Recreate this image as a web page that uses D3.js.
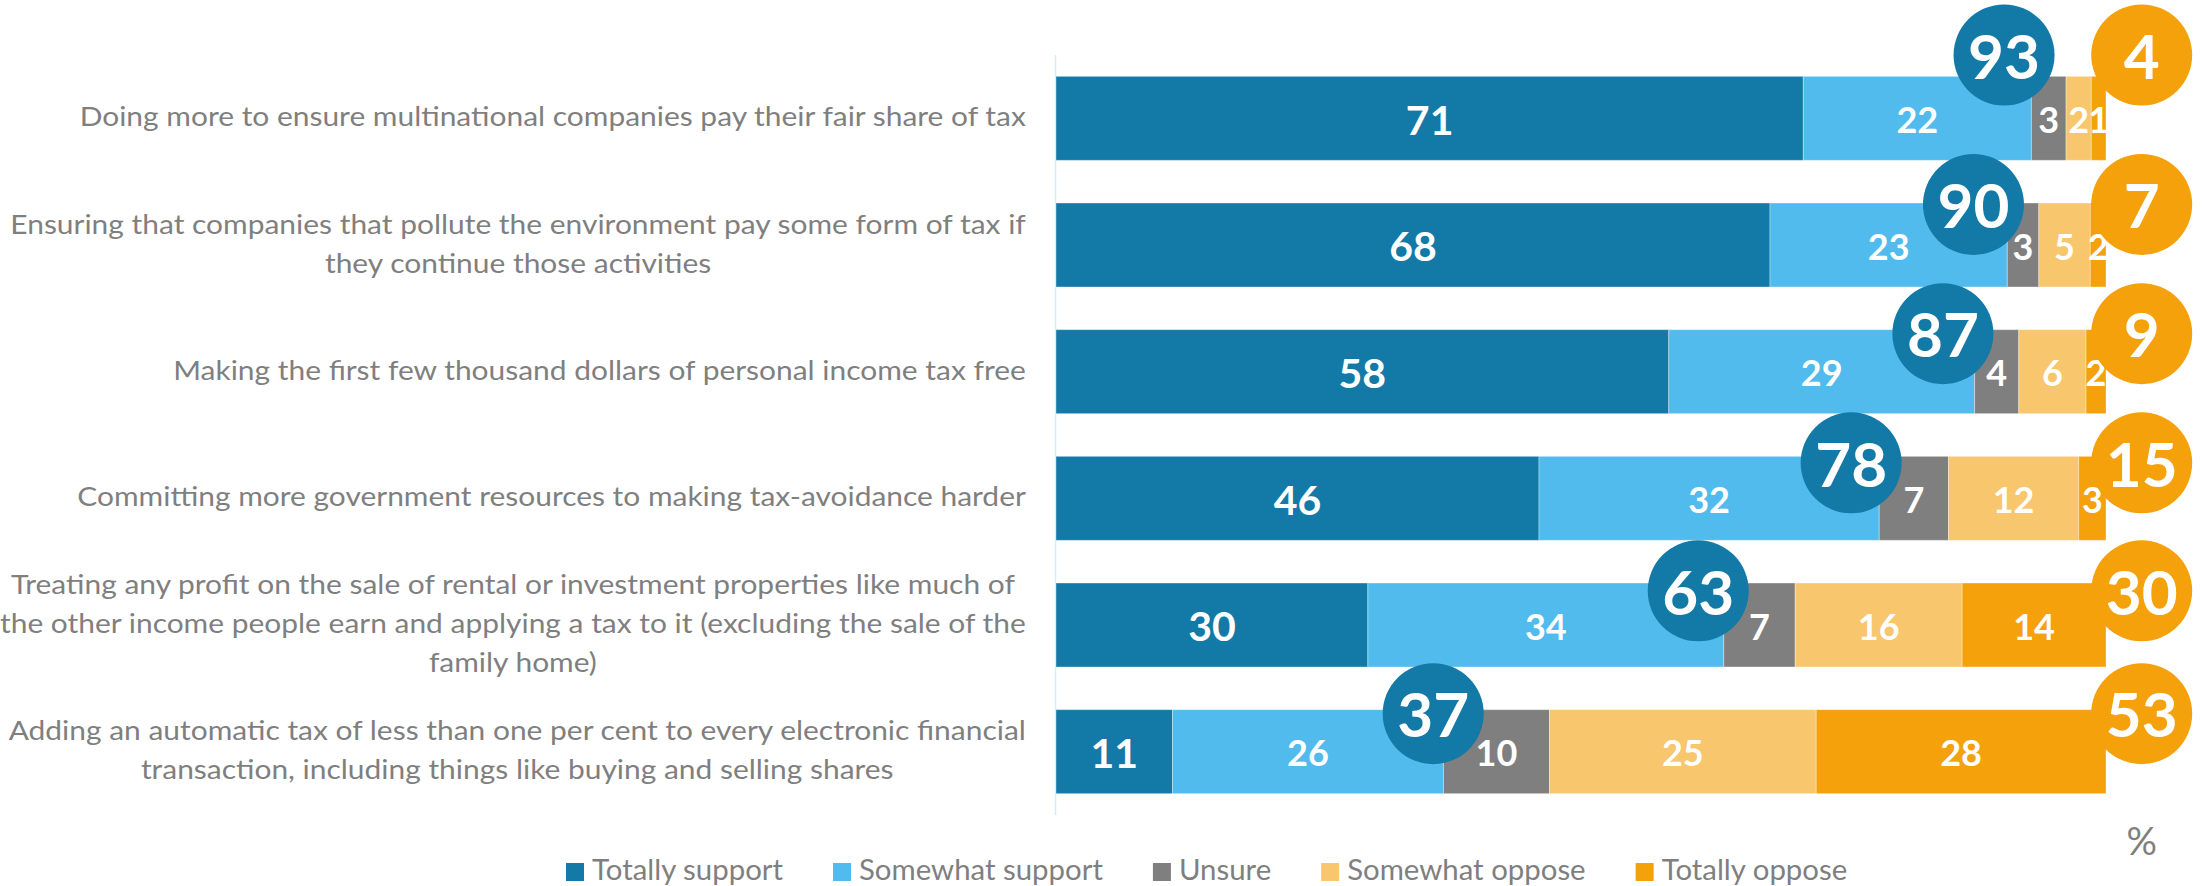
<!DOCTYPE html>
<html>
<head>
<meta charset="utf-8">
<script src="https://cdn.jsdelivr.net/npm/d3@7"></script>
<style>
  html, body { margin: 0; padding: 0; background: #ffffff; }
  svg { display: block; font-family: "Lato", "Open Sans", sans-serif; }
</style>
</head>
<body>
<svg id="chart" width="2203" height="886"></svg>
<script>
// ---------------- DATA ----------------
const categories = [
  ["Doing more to ensure multinational companies pay their fair share of tax"],
  ["Ensuring that companies that pollute the environment pay some form of tax if", "they continue those activities"],
  ["Making the first few thousand dollars of personal income tax free"],
  ["Committing more government resources to making tax-avoidance harder"],
  ["Treating any profit on the sale of rental or investment properties like much of", "the other income people earn and applying a tax to it (excluding the sale of the", "family home)"],
  ["Adding an automatic tax of less than one per cent to every electronic financial", "transaction, including things like buying and selling shares"]
];
const seriesNames = ["Totally support", "Somewhat support", "Unsure", "Somewhat oppose", "Totally oppose"];
const totallySupport  = [71.1, 68.0, 58.3, 46.0, 29.7, 11.1];
const somewhatSupport = [21.7, 22.6, 29.1, 32.4, 33.9, 25.8];
const unsure          = [3.3, 3.0, 4.2, 6.6, 6.8, 10.1];
const somewhatOppose  = [2.4, 4.9, 6.4, 12.4, 15.9, 25.4];
const totallyOppose   = [1.4, 1.5, 1.9, 2.6, 13.7, 27.6];
const totalSupport = [93, 90, 87, 78, 63, 37];
const totalOppose  = [4, 7, 9, 15, 30, 53];
// vertical position of the total bubbles (row units, 0 = bottom of plot, 6 = top)
const bubbleRowPos = [6.0, 4.82, 3.80, 2.78, 1.77, 0.80];
const unitLabel = "%";

// ---------------- STYLE / LAYOUT ----------------
const colors = ["#1379A7", "#50BBEC", "#7F7F7F", "#F8C66C", "#F4A10B"];
const W = 2203, H = 886;
const plot = { left: 1056, right: 2106, top: 55, bottom: 815 };
const labelRight = 1026;
const textGray = "#7F7F7F";
const catStretch = 1.13;
const legendStretch = 1.05;

const svg = d3.select("#chart");
svg.append("rect").attr("width", W).attr("height", H).attr("fill", "#fff");

const seriesArrays = [totallySupport, somewhatSupport, unsure, somewhatOppose, totallyOppose];
const rows = categories.map((c, i) => {
  const o = { idx: i };
  seriesNames.forEach((s, k) => o[s] = seriesArrays[k][i]);
  return o;
});

const stack = d3.stack().keys(seriesNames).offset(d3.stackOffsetExpand);
const stacked = stack(rows);

const x = d3.scaleLinear().domain([0, 1]).range([plot.left, plot.right]);
const y = d3.scaleBand().domain(d3.range(categories.length))
  .range([plot.top, plot.bottom]).paddingInner(0.337).paddingOuter(0.337 / 2);
const xBubble = d3.scaleLinear().domain([0, 103]).range([plot.left, plot.right]);
const yBubble = d3.scaleLinear().domain([0, 6]).range([plot.bottom, plot.top]);
const opposeColumn = 106.5; // bubble column position on xBubble scale
const bubbleR = 50.5;

// axis line
svg.append("line")
  .attr("x1", plot.left - 0.5).attr("x2", plot.left - 0.5)
  .attr("y1", plot.top).attr("y2", plot.bottom)
  .attr("stroke", "#D6ECFA").attr("stroke-width", 1.5);

// bars
const layers = svg.append("g").selectAll("g").data(stacked).join("g")
  .attr("fill", (d, k) => colors[k]);
layers.selectAll("rect").data(d => d).join("rect")
  .attr("x", d => x(d[0]))
  .attr("width", d => x(d[1]) - x(d[0]))
  .attr("y", (d, i) => y(i))
  .attr("height", y.bandwidth())
  .attr("stroke", "#ffffff").attr("stroke-opacity", 0.35).attr("stroke-width", 1);

// segment labels
const segLabels = svg.append("g");
stacked.forEach((layer, k) => {
  segLabels.selectAll(null).data(layer).join("text")
    .attr("x", d => (x(d[0]) + x(d[1])) / 2)
    .attr("y", (d, i) => y(i) + y.bandwidth() / 2 + 2)
    .attr("dy", "0.35em")
    .attr("text-anchor", "middle")
    .attr("fill", "#fff")
    .attr("font-weight", 700)
    .attr("font-size", k === 0 ? 41 : 36)
    .text((d, i) => Math.round(seriesArrays[k][i]));
});

// bubbles: total support
const bubbles = svg.append("g");
bubbles.selectAll("circle.sup").data(totalSupport).join("circle")
  .attr("class", "sup")
  .attr("cx", d => xBubble(d))
  .attr("cy", (d, i) => yBubble(bubbleRowPos[i]))
  .attr("r", bubbleR).attr("fill", colors[0]);
bubbles.selectAll("text.sup").data(totalSupport).join("text")
  .attr("class", "sup")
  .attr("x", d => xBubble(d))
  .attr("y", (d, i) => yBubble(bubbleRowPos[i]) + 2)
  .attr("dy", "0.35em").attr("text-anchor", "middle")
  .attr("fill", "#fff").attr("font-weight", 700).attr("font-size", 62)
  .text(d => d);
// bubbles: total oppose
bubbles.selectAll("circle.opp").data(totalOppose).join("circle")
  .attr("class", "opp")
  .attr("cx", xBubble(opposeColumn))
  .attr("cy", (d, i) => yBubble(bubbleRowPos[i]))
  .attr("r", bubbleR).attr("fill", colors[4]);
bubbles.selectAll("text.opp").data(totalOppose).join("text")
  .attr("class", "opp")
  .attr("x", xBubble(opposeColumn))
  .attr("y", (d, i) => yBubble(bubbleRowPos[i]) + 2)
  .attr("dy", "0.35em").attr("text-anchor", "middle")
  .attr("fill", "#fff").attr("font-weight", 700).attr("font-size", 62)
  .text(d => d);

// category labels (wrapped lines, block right-aligned, lines centred)
const lineH = 39;
const catG = svg.append("g");
categories.forEach((lines, i) => {
  const g = catG.append("g");
  const cy = y(i) + y.bandwidth() / 2 + 8;
  const texts = lines.map((ln, k) => g.append("text")
    .attr("y", cy + (k - (lines.length - 1) / 2) * lineH)
    .attr("font-size", 26.5)
    .attr("fill", textGray)
    .text(ln));
  const widths = texts.map(t => t.node().getComputedTextLength() * catStretch);
  const maxW = d3.max(widths);
  const center = labelRight - maxW / 2;
  texts.forEach(t => {
    const yy = +t.attr("y");
    t.attr("x", 0).attr("y", 0).attr("text-anchor", "middle")
     .attr("transform", `translate(${center},${yy}) scale(${catStretch},1)`);
  });
});

// unit label
svg.append("text")
  .attr("x", xBubble(opposeColumn)).attr("y", 855)
  .attr("text-anchor", "middle").attr("font-size", 38)
  .attr("fill", textGray).text(unitLabel);

// legend
const legend = svg.append("g");
let lx = 566;
seriesNames.forEach((name, k) => {
  legend.append("rect").attr("x", lx).attr("y", 863).attr("width", 18).attr("height", 18)
    .attr("fill", colors[k]);
  const t = legend.append("text").attr("x", 0).attr("y", 0)
    .attr("transform", `translate(${lx + 26},880) scale(${legendStretch},1)`)
    .attr("font-size", 28).attr("fill", textGray).text(name);
  lx = lx + 26 + t.node().getComputedTextLength() * legendStretch + 50;
});
</script>
</body>
</html>
